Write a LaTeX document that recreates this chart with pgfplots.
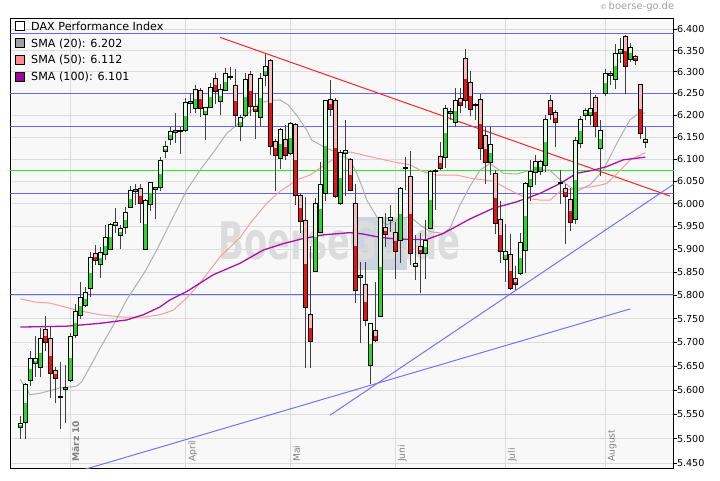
\documentclass[border=0pt]{standalone}
\usepackage{pgfplots}
\pgfplotsset{compat=1.18}
\usepackage{pgfplotstable}
\usepackage{graphicx}
\usepackage{fontspec}
\setmainfont{DejaVu Sans}
\definecolor{bggray}{HTML}{F8F8F8}
\definecolor{gridgray}{HTML}{DCDCDC}
\definecolor{hblue}{HTML}{6464F5}
\definecolor{tblue}{HTML}{7373FF}
\definecolor{hgreen}{HTML}{22EE22}
\definecolor{trendred}{HTML}{FF2222}
\definecolor{updark}{HTML}{22DD22}
\definecolor{uplight}{HTML}{D8FFD8}
\definecolor{dndark}{HTML}{EE1111}
\definecolor{dnlight}{HTML}{FFB8B8}
\definecolor{wickgray}{HTML}{404040}
\definecolor{sma20}{HTML}{B0B0B0}
\definecolor{sma50}{HTML}{FF9A9A}
\definecolor{sma100}{HTML}{AA10AA}
\definecolor{box20}{HTML}{A0A0A0}
\definecolor{box50}{HTML}{FF8C8C}
\definecolor{box100}{HTML}{A000A0}
\definecolor{wm}{HTML}{DCDCDC}
\definecolor{wmbox}{HTML}{CCD5DE}
\definecolor{lbl}{HTML}{808080}

% up (green) candles: index, open, high, low, close
\pgfplotstableread{
i O H L C
0 5523 5546 5500 5531
1 5533 5614 5499 5612
2 5620 5681 5608 5666
3 5656 5712 5626 5666
4 5647 5731 5626 5708
9 5602 5652 5531 5605
10 5621 5719 5617 5713
11 5715 5782 5708 5766
12 5757 5828 5750 5795
13 5778 5818 5775 5806
14 5815 5893 5797 5882
16 5867 5904 5838 5893
17 5888 5953 5876 5925
18 5900 5958 5898 5955
19 5952 5990 5934 5959
20 5930 5953 5900 5945
21 5947 5992 5932 5981
22 5992 6039 5992 6030
23 6027 6043 5998 6032
25 5900 6010 5900 6008
26 5998 6048 5984 6048
27 6031 6038 5966 6037
28 6036 6104 6029 6097
29 6117 6141 6102 6128
30 6145 6173 6132 6163
31 6160 6204 6136 6165
32 6162 6173 6111 6164
33 6165 6239 6162 6229
34 6227 6252 6204 6231
35 6216 6270 6204 6259
37 6202 6218 6142 6218
38 6218 6274 6216 6264
40 6231 6272 6200 6259
41 6256 6308 6256 6296
42 6287 6312 6281 6290
44 6175 6200 6140 6195
45 6200 6297 6196 6283
48 6195 6298 6175 6285
49 6292 6343 6268 6313
52 6102 6171 6077 6167
54 6113 6185 6109 6181
59 5852 6012 5852 6001
60 5936 6094 5936 6042
61 6023 6235 6007 6235
64 6001 6120 5997 6114
65 6113 6189 6017 6120
68 5838 5872 5698 5843
70 5652 5740 5612 5740
72 5754 5969 5754 5969
74 5962 5997 5937 5969
76 5918 6038 5869 6034
77 6078 6105 6030 6081
79 5863 5931 5833 5869
81 5891 5964 5836 5919
82 5945 6074 5945 6071
83 6071 6078 5986 6074
85 6104 6223 6079 6216
86 6204 6216 6189 6208
87 6184 6262 6174 6235
91 6222 6228 6189 6225
94 6092 6173 6064 6134
97 5877 5956 5829 5896
100 5847 5934 5844 5915
101 5898 6048 5848 6046
102 6039 6098 6005 6071
103 6069 6109 6041 6094
104 6071 6099 6064 6094
105 6085 6199 6071 6191
108 6044 6074 5999 6047
111 5965 6150 5954 6141
112 6135 6197 6124 6191
113 6199 6216 6189 6211
114 6199 6257 6178 6216
116 6124 6189 6061 6165
117 6249 6306 6243 6297
118 6291 6301 6270 6297
119 6283 6365 6261 6343
120 6343 6379 6320 6353
122 6330 6368 6322 6357
125 6138 6173 6126 6145
}\upcandles

% down (red) candles: index, open, high, low, close
\pgfplotstableread{
i O H L C
5 5727 5756 5682 5700
6 5708 5734 5584 5635
7 5641 5647 5572 5624
8 5587 5658 5520 5585
15 5891 5909 5865 5875
24 6034 6045 5958 6001
36 6256 6262 6195 6216
39 6285 6298 6225 6254
43 6268 6306 6173 6199
46 6293 6303 6198 6220
47 6220 6252 6145 6208
50 6327 6331 6109 6128
51 6139 6145 6027 6109
53 6145 6177 6098 6109
55 6179 6181 5997 6019
56 6019 6023 5936 5960
57 5964 6015 5645 5773
58 5758 5907 5645 5701
62 6237 6280 6198 6212
63 6235 6239 6013 6017
66 6098 6102 6030 6030
67 6001 6045 5783 5811
69 5823 5871 5734 5747
71 5725 5829 5701 5703
73 5948 5978 5905 5932
75 5937 5960 5836 5896
78 6061 6117 5865 5891
80 5906 5934 5804 5891
84 6105 6139 6075 6079
88 6239 6262 6204 6222
89 6332 6353 6216 6235
90 6274 6302 6198 6214
92 6237 6249 6099 6124
93 6154 6173 6043 6092
95 6067 6074 5932 5956
96 5965 6007 5870 5896
98 5889 5932 5811 5815
99 5836 5863 5811 5823
106 6235 6247 6189 6202
107 6206 6211 6128 6182
109 6034 6045 5910 6017
110 6010 6034 5940 5959
115 6241 6247 6149 6175
121 6384 6386 6249 6312
123 6337 6339 6316 6326
124 6271 6271 6145 6158
}\downcandles

\pgfplotstableread{
i v
0 5622
1.94 5590
3.94 5593
7.94 5604
11.28 5608
12.28 5617
13.94 5648
15.94 5687
18.6 5736
21.28 5790
24.94 5851
27.28 5898
30.6 5971
33.28 6030
35.94 6075
38.94 6120
41.28 6158
43.28 6177
45.94 6208
47.94 6228
49.94 6234
51.94 6235
53.6 6223
55.28 6200
57.28 6166
58.28 6143
60.6 6128
63.28 6114
65.94 6098
67.28 6068
68.6 6030
69.28 6008
71.28 5971
73.28 5953
75.94 5967
77.94 5971
79.94 5953
81.94 5938
84.6 5934
85.94 5946
87.94 5997
89.94 6039
91.94 6075
93.94 6090
96.6 6068
99.28 6066
101.94 6075
105.94 6075
107.94 6053
111.28 6028
113.94 6042
116.6 6075
119.28 6135
121.94 6189
123.94 6206
125 6204
}\smatwenty

\pgfplotstableread{
i v
0 5792
3.28 5785
5.94 5783
11.28 5768
15.94 5758
20.6 5753
24.6 5753
27.94 5758
30.6 5768
33.28 5794
35.94 5826
39.94 5883
43.94 5925
45.94 5956
49.28 6001
51.94 6027
55.28 6053
57.94 6064
61.28 6090
63.94 6109
65.94 6116
68.6 6109
71.28 6102
75.28 6092
77.94 6087
80.6 6071
83.28 6064
87.28 6064
89.94 6057
94.6 6050
97.94 6030
101.28 6012
103.94 6008
105.94 6008
107.94 6027
111.28 6034
114.6 6038
117.28 6045
119.28 6066
121.94 6098
125 6114
}\smafifty

\pgfplotstableread{
i v
0 5732
9.28 5734
15.94 5740
21.28 5747
24.6 5758
27.94 5775
29.94 5790
33.28 5808
38.6 5844
43.94 5869
48.6 5898
52.6 5912
56.6 5923
60.6 5931
65.94 5936
68.6 5933
71.28 5927
73.94 5923
77.94 5921
81.28 5921
84.6 5934
89.94 5966
94.6 5990
99.28 6004
103.94 6023
107.94 6045
111.28 6068
114.6 6075
117.28 6083
120.6 6098
125 6104
}\smahundred

% draws the candles of one table through the axis: #1 table, #2 light colour, #3 dark colour
\newcommand{\drawcandles}[3]{%
  \pgfplotstablegetrowsof{#1}%
  \pgfmathtruncatemacro{\cdN}{\pgfplotsretval-1}%
  \pgfplotsforeachungrouped \cdRow in {0,...,\cdN}{%
    \pgfplotstablegetelem{\cdRow}{i}\of#1\let\cdI\pgfplotsretval
    \pgfplotstablegetelem{\cdRow}{O}\of#1\let\cdO\pgfplotsretval
    \pgfplotstablegetelem{\cdRow}{H}\of#1\let\cdH\pgfplotsretval
    \pgfplotstablegetelem{\cdRow}{L}\of#1\let\cdL\pgfplotsretval
    \pgfplotstablegetelem{\cdRow}{C}\of#1\let\cdC\pgfplotsretval
    \pgfmathsetmacro{\cdXl}{\cdI-0.36}%
    \pgfmathsetmacro{\cdXr}{\cdI+0.36}%
    \pgfmathsetmacro{\cdMin}{min(\cdO,\cdC)}%
    \pgfmathsetmacro{\cdMid}{(\cdO+\cdC)/2}%
    \edef\cdTmp{%
      \noexpand\addplot[forget plot, draw=wickgray, line width=0.8bp] coordinates {(\cdI,\cdL) (\cdI,\cdH)};%
      \noexpand\addplot[forget plot, draw=none, fill=#2] coordinates {(\cdXl,\cdO) (\cdXr,\cdO) (\cdXr,\cdC) (\cdXl,\cdC)} -- cycle;%
      \noexpand\addplot[forget plot, draw=none, fill=#3] coordinates {(\cdXl,\cdMin) (\cdXr,\cdMin) (\cdXr,\cdMid) (\cdXl,\cdMid)} -- cycle;%
      \noexpand\addplot[forget plot, draw=black, line width=0.8bp] coordinates {(\cdXl,\cdO) (\cdXr,\cdO) (\cdXr,\cdC) (\cdXl,\cdC)} -- cycle;%
    }\cdTmp
  }%
}

\begin{document}
\begin{tikzpicture}[x=1bp,y=1bp]
\useasboundingbox (0,0) rectangle (720,481);
% plot background and watermark
\fill[bggray] (10.3,12.7) rectangle (673.5,462.7);
\fill[wmbox] (356.7,211) rectangle (406.7,264.3);
\node[anchor=base west, inner sep=0pt, text=wm] at (218.3,221)
  {\scalebox{0.652}[1]{\fontsize{52}{52}\selectfont\bfseries BoerseGo.de}};
% copyright
\node[anchor=base west, inner sep=0pt, text=box20, font=\fontsize{7}{8}\selectfont] at (600,471.3) {©};
\node[anchor=base west, inner sep=0pt, text=box20, font=\fontsize{10}{12}\selectfont] at (608.5,471) {boerse-go.de};

\begin{axis}[
  at={(10.3bp,12.7bp)}, anchor=south west,
  scale only axis, width=663.2bp, height=450bp,
  xmin=-2, xmax=130.64,
  % logarithmic price scale
  y coord trafo/.code={\pgfmathparse{ln(#1)}},
  y coord inv trafo/.code={\pgfmathparse{exp(#1)}},
  ymin=5439.9, ymax=6426.1,
  axis line style={black, line width=1bp},
  ytick={5450,5500,5550,5600,5650,5700,5750,5800,5850,5900,5950,6000,6050,6100,6150,6200,6250,6300,6350,6400},
  yticklabels={5.450,5.500,5.550,5.600,5.650,5.700,5.750,5.800,5.850,5.900,5.950,6.000,6.050,6.100,6.150,6.200,6.250,6.300,6.350,6.400},
  ytick pos=right, yticklabel pos=right,
  tick align=outside, major tick length=3bp,
  ytick style={black, line width=0.8bp},
  yticklabel style={font=\fontsize{9.6}{11}\selectfont, inner sep=0.3bp},
  yminorticks=false, xminorticks=false,
  xtick={10,33,54,75,97,117}, xticklabels={,,,,,},
  xtick style={draw=none},
  grid=major, grid style={gridgray, line width=0.8bp},
  legend style={at={(0,1)}, anchor=north west, xshift=5.1bp, yshift=-3.2bp,
    draw=none, fill=none, inner sep=0pt, outer sep=0pt,
    font=\fontsize{11.2}{13}\selectfont,
    nodes={inner sep=0pt, text height=8.3bp, text depth=2.6bp},
    row sep=5.1bp,
    /tikz/every odd column/.append style={column sep=6bp}},
  legend cell align=left,
]
% horizontal support / resistance lines
\addplot[forget plot, hblue, line width=1bp] coordinates {(-2,6389) (130.64,6389)};
\addplot[forget plot, hblue, line width=1bp] coordinates {(-2,6250) (130.64,6250)};
\addplot[forget plot, hblue, line width=1bp] coordinates {(-2,6174) (130.64,6174)};
\addplot[forget plot, hgreen, line width=1bp] coordinates {(-2,6075) (130.64,6075)};
\addplot[forget plot, hblue, line width=1bp] coordinates {(-2,6023) (130.64,6023)};
\addplot[forget plot, hblue, line width=1bp] coordinates {(-2,5802) (130.64,5802)};
% trend lines
\addplot[forget plot, trendred, line width=1bp] coordinates {(39.94,6381) (129.94,6017)};
\addplot[forget plot, tblue, line width=1bp] coordinates {(61.94,5548) (130.64,6043)};
\addplot[forget plot, tblue, line width=1bp] coordinates {(11.28,5433) (121.94,5770.5)};
% moving averages
\addplot[forget plot, sma50, line width=1bp] table[x=i, y=v] \smafifty;
\addplot[forget plot, sma20, line width=1bp] table[x=i, y=v] \smatwenty;
\addplot[forget plot, sma100, line width=1.3bp] table[x=i, y=v] \smahundred;
% candles
\drawcandles{\upcandles}{uplight}{updark}
\drawcandles{\downcandles}{dnlight}{dndark}
% month labels
\node[rotate=90, anchor=north west, inner sep=0pt, text=lbl, font=\fontsize{9.2}{10}\selectfont\bfseries] at (axis cs:10.3,5452.6) {März 10};
\node[rotate=90, anchor=north west, inner sep=0pt, text=lbl, font=\fontsize{9.2}{10}\selectfont] at (axis cs:33.6,5452.6) {April};
\node[rotate=90, anchor=north west, inner sep=0pt, text=lbl, font=\fontsize{9.2}{10}\selectfont] at (axis cs:54.5,5452.6) {Mai};
\node[rotate=90, anchor=north west, inner sep=0pt, text=lbl, font=\fontsize{9.2}{10}\selectfont] at (axis cs:75.5,5452.6) {Juni};
\node[rotate=90, anchor=north west, inner sep=0pt, text=lbl, font=\fontsize{9.2}{10}\selectfont] at (axis cs:97.5,5452.6) {Juli};
\node[rotate=90, anchor=north west, inner sep=0pt, text=lbl, font=\fontsize{9.2}{10}\selectfont] at (axis cs:117.5,5452.6) {August};
% legend
\addlegendimage{legend image code/.code={\draw[black, line width=0.8bp, fill=white] (0bp,-3.25bp) rectangle (9bp,5.75bp);}}
\addlegendentry{DAX Performance Index}
\addlegendimage{legend image code/.code={\draw[black, line width=0.8bp, fill=box20] (0bp,-3.25bp) rectangle (9bp,5.75bp);}}
\addlegendentry{SMA (20): 6.202}
\addlegendimage{legend image code/.code={\draw[black, line width=0.8bp, fill=box50] (0bp,-3.25bp) rectangle (9bp,5.75bp);}}
\addlegendentry{SMA (50): 6.112}
\addlegendimage{legend image code/.code={\draw[black, line width=0.8bp, fill=box100] (0bp,-3.25bp) rectangle (9bp,5.75bp);}}
\addlegendentry{SMA (100): 6.101}
\end{axis}
\end{tikzpicture}
\end{document}
